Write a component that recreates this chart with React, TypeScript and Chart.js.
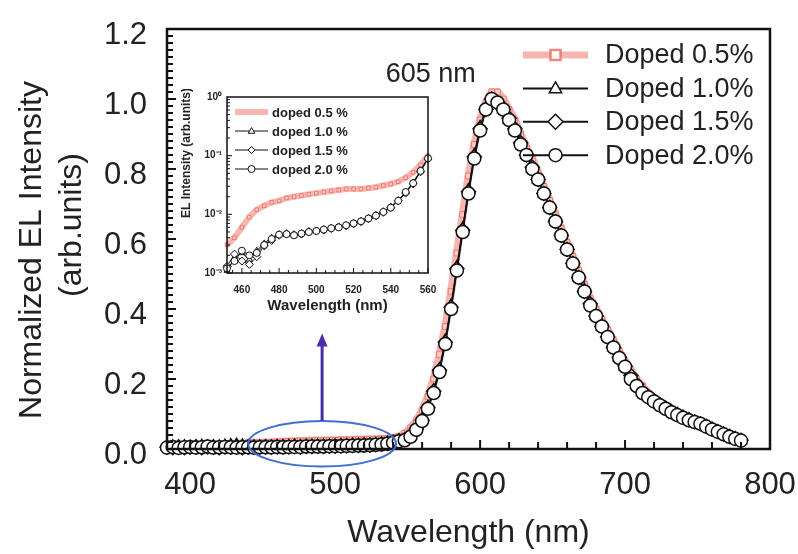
import React, { useEffect, useRef } from "react";
import { Chart, registerables } from "chart.js";
Chart.register(...registerables);

const FONT = "'Liberation Sans', Arial, sans-serif";
const TEXT = "#222";

// ---------- main plot data ----------
const WAVELENGTHS = [
  384, 388, 392, 396, 400, 404, 408, 412, 416, 420, 424, 428, 432, 436, 440,
  444, 448, 452, 456, 460, 464, 468, 472, 476, 480, 484, 488, 492, 496, 500, 504, 508, 512, 516, 520, 524, 528, 532, 536, 540,
  544, 548, 552, 556, 560, 564, 568, 572, 576, 580, 584, 588, 592, 596, 600,
  604, 608, 612, 616, 620, 624, 628, 632, 636, 640, 644, 648, 652, 656, 660, 664, 668, 672, 676, 680, 684, 688, 692, 696, 700,
  704, 708, 712, 716, 720, 724, 728, 732, 736, 740, 744, 748, 752, 756, 760, 764, 768, 772, 776, 780,
];

const DOPED_05 = [
  0.008, 0.01, 0.008, 0.01, 0.012, 0.01, 0.011, 0.012, 0.012, 0.013, 0.014, 0.015, 0.015, 0.016, 0.017,
  0.018, 0.018, 0.018, 0.019, 0.02, 0.021, 0.022, 0.022, 0.023, 0.023, 0.024, 0.024, 0.024, 0.025, 0.025, 0.026, 0.026, 0.026, 0.027, 0.027, 0.028, 0.028, 0.029, 0.03, 0.032,
  0.036, 0.045, 0.06, 0.08, 0.11, 0.15, 0.2, 0.27, 0.35, 0.45, 0.56, 0.67, 0.78, 0.87, 0.94,
  0.99, 1.02, 1.02, 1.0, 0.97, 0.94, 0.9, 0.86, 0.83, 0.79, 0.75, 0.71, 0.67, 0.63, 0.59, 0.55, 0.51, 0.47, 0.43, 0.4, 0.37, 0.34, 0.31, 0.28, 0.25,
  0.225, 0.2, 0.18, 0.16, 0.147, 0.135, 0.124, 0.114, 0.105, 0.097, 0.09, 0.083, 0.077, 0.07, 0.062, 0.054, 0.047, 0.04, 0.034, 0.028,
];

const DOPED_10 = [
  0.006, 0.007, 0.005, 0.008, 0.006, 0.007, 0.009, 0.006, 0.008, 0.007, 0.009, 0.011, 0.012, 0.01, 0.008,
  0.007, 0.007, 0.008, 0.007, 0.008, 0.008, 0.008, 0.009, 0.008, 0.009, 0.009, 0.009, 0.01, 0.01, 0.01, 0.011, 0.011, 0.012, 0.012, 0.013, 0.013, 0.014, 0.015, 0.017, 0.02,
  0.024, 0.028, 0.038, 0.058, 0.084, 0.12, 0.168, 0.228, 0.31, 0.41, 0.52, 0.63, 0.74, 0.84, 0.92,
  0.975, 1.0, 0.99, 0.97, 0.94, 0.91, 0.875, 0.84, 0.8, 0.77, 0.73, 0.69, 0.65, 0.61, 0.57, 0.53, 0.49, 0.455, 0.415, 0.38, 0.35, 0.32, 0.29, 0.26, 0.235,
  0.205, 0.183, 0.162, 0.149, 0.137, 0.126, 0.116, 0.106, 0.098, 0.09, 0.083, 0.077, 0.072, 0.064, 0.056, 0.049, 0.042, 0.035, 0.029, 0.024,
];

const DOPED_15 = [
  0.005, 0.004, 0.006, 0.004, 0.005, 0.006, 0.004, 0.006, 0.005, 0.004, 0.006, 0.005, 0.006, 0.004, 0.005,
  0.005, 0.005, 0.006, 0.005, 0.006, 0.006, 0.006, 0.007, 0.006, 0.007, 0.007, 0.008, 0.007, 0.008, 0.008, 0.009, 0.009, 0.01, 0.01, 0.011, 0.011, 0.012, 0.014, 0.016, 0.019,
  0.023, 0.027, 0.037, 0.057, 0.082, 0.118, 0.165, 0.225, 0.305, 0.405, 0.515, 0.625, 0.735, 0.835, 0.915,
  0.97, 1.0, 0.99, 0.97, 0.945, 0.915, 0.875, 0.84, 0.805, 0.77, 0.73, 0.69, 0.65, 0.61, 0.57, 0.53, 0.49, 0.45, 0.415, 0.38, 0.35, 0.32, 0.29, 0.262, 0.237,
  0.21, 0.185, 0.163, 0.15, 0.138, 0.127, 0.117, 0.107, 0.099, 0.091, 0.084, 0.078, 0.072, 0.065, 0.057, 0.05, 0.043, 0.036, 0.03, 0.025,
];

const DOPED_20 = [
  0.004, 0.006, 0.003, 0.005, 0.006, 0.004, 0.005, 0.007, 0.004, 0.005, 0.006, 0.005, 0.004, 0.005, 0.005,
  0.004, 0.005, 0.005, 0.005, 0.006, 0.005, 0.006, 0.006, 0.006, 0.007, 0.007, 0.007, 0.007, 0.008, 0.008, 0.008, 0.009, 0.009, 0.01, 0.01, 0.011, 0.012, 0.013, 0.015, 0.018,
  0.022, 0.025, 0.035, 0.055, 0.08, 0.115, 0.16, 0.22, 0.3, 0.4, 0.51, 0.62, 0.73, 0.83, 0.91,
  0.97, 1.0, 0.99, 0.97, 0.94, 0.91, 0.87, 0.84, 0.8, 0.77, 0.73, 0.69, 0.65, 0.61, 0.57, 0.53, 0.49, 0.45, 0.41, 0.38, 0.35, 0.32, 0.29, 0.26, 0.235,
  0.2, 0.18, 0.16, 0.148, 0.136, 0.125, 0.115, 0.105, 0.097, 0.089, 0.082, 0.077, 0.072, 0.064, 0.056, 0.049, 0.042, 0.035, 0.029, 0.024,
];

const SERIES_LABELS = ["Doped 0.5%", "Doped 1.0%", "Doped 1.5%", "Doped 2.0%"];
const MAIN_X_TICKS = [400, 500, 600, 700, 800];
const MAIN_Y_TICKS = [0, 0.2, 0.4, 0.6, 0.8, 1.0, 1.2];
const PEAK_LABEL = "605 nm";

// ---------- inset data ----------
const INSET_WL = [452, 456, 460, 464, 468, 472, 476, 480, 484, 488, 492, 496, 500, 504, 508, 512, 516, 520, 524, 528, 532, 536, 540, 544, 548, 552, 556, 560];
const INSET_05 = [0.003, 0.004, 0.006, 0.009, 0.012, 0.014, 0.016, 0.017, 0.019, 0.02, 0.021, 0.022, 0.023, 0.024, 0.025, 0.026, 0.027, 0.027, 0.027, 0.028, 0.029, 0.031, 0.033, 0.036, 0.042, 0.052, 0.07, 0.1];
const INSET_10 = [0.0011, 0.0018, 0.0022, 0.0017, 0.0024, 0.0032, 0.004, 0.0046, 0.0045, 0.0043, 0.0048, 0.005, 0.0053, 0.0056, 0.0059, 0.0062, 0.0066, 0.0071, 0.0078, 0.0087, 0.0098, 0.0113, 0.0135, 0.0175, 0.024, 0.035, 0.056, 0.092];
const INSET_15 = [0.0013, 0.0021, 0.0016, 0.0014, 0.0019, 0.0029, 0.0036, 0.0044, 0.0047, 0.0045, 0.0046, 0.0051, 0.0052, 0.0054, 0.0057, 0.0061, 0.0064, 0.0069, 0.0075, 0.0084, 0.0094, 0.0108, 0.013, 0.017, 0.023, 0.033, 0.053, 0.088];
const INSET_20 = [0.0012, 0.0016, 0.0024, 0.002, 0.0022, 0.003, 0.0038, 0.0045, 0.0046, 0.0044, 0.0047, 0.005, 0.0052, 0.0055, 0.0058, 0.006, 0.0065, 0.007, 0.0076, 0.0085, 0.0095, 0.011, 0.013, 0.017, 0.024, 0.034, 0.055, 0.09];
const INSET_LABELS = ["doped 0.5 %", "doped 1.0 %", "doped 1.5 %", "doped 2.0 %"];
const INSET_X_TICKS = [460, 480, 500, 520, 540, 560];
const INSET_Y_TICKS = [0.001, 0.01, 0.1, 1];
const INSET_Y_LABELS = ["10\u207B\u00B3", "10\u207B\u00B2", "10\u207B\u00B9", "10\u2070"];

const RED_LINE = "rgba(240,120,110,0.55)";
const RED_FILL = "rgba(255,205,200,0.9)";
const RED_EDGE = "rgba(235,105,95,0.8)";
const BLACK = "#111";

function pts(xs: number[], ys: number[]) {
  return xs.map((x, i) => ({ x, y: ys[i] }));
}

function drawMarker(ctx: CanvasRenderingContext2D, style: string, x: number, y: number, r: number, fill: string, stroke: string, lw: number) {
  ctx.save();
  ctx.beginPath();
  if (style === "circle") {
    ctx.arc(x, y, r, 0, Math.PI * 2);
  } else if (style === "triangle") {
    ctx.moveTo(x, y - r);
    ctx.lineTo(x + r * 0.95, y + r * 0.65);
    ctx.lineTo(x - r * 0.95, y + r * 0.65);
    ctx.closePath();
  } else if (style === "rectRot") {
    ctx.moveTo(x, y - r);
    ctx.lineTo(x + r, y);
    ctx.lineTo(x, y + r);
    ctx.lineTo(x - r, y);
    ctx.closePath();
  } else {
    ctx.rect(x - r, y - r, 2 * r, 2 * r);
  }
  ctx.fillStyle = fill;
  ctx.fill();
  ctx.lineWidth = lw;
  ctx.strokeStyle = stroke;
  ctx.stroke();
  ctx.restore();
}

function seg(ctx: CanvasRenderingContext2D, x1: number, y1: number, x2: number, y2: number) {
  ctx.beginPath();
  ctx.moveTo(x1, y1);
  ctx.lineTo(x2, y2);
  ctx.stroke();
}

function zeroPad(s: any) {
  s.paddingLeft = 0;
  s.paddingRight = 0;
  s.paddingTop = 0;
  s.paddingBottom = 0;
}

const mainDecor = {
  id: "mainDecor",
  afterDraw(chart: any) {
    const { ctx, chartArea, scales } = chart;
    const { left, right, top, bottom } = chartArea;
    const x = scales.x;
    const y = scales.y;
    ctx.save();
    // inward ticks
    ctx.strokeStyle = BLACK;
    ctx.lineWidth = 2;
    for (let v = 400; v <= 800; v += 20) {
      const px = x.getPixelForValue(v);
      seg(ctx, px, bottom, px, bottom - (v % 100 === 0 ? 9 : 7));
    }
    for (let k = 1; k < 60; k++) {
      const py = y.getPixelForValue(k * 0.02);
      seg(ctx, left, py, left + (k % 10 === 0 ? 9 : 6), py);
    }
    // frame
    ctx.lineWidth = 2.5;
    ctx.strokeRect(left, top, right - left, bottom - top);

    // y title (two lines)
    ctx.fillStyle = TEXT;
    ctx.font = `32px ${FONT}`;
    ctx.textAlign = "center";
    ctx.textBaseline = "middle";
    ctx.save();
    ctx.translate(32, 250);
    ctx.rotate(-Math.PI / 2);
    ctx.fillText("Normalized EL Intensity", 0, 0);
    ctx.restore();
    ctx.save();
    ctx.translate(72, 225);
    ctx.rotate(-Math.PI / 2);
    ctx.fillText("(arb.units)", 0, 0);
    ctx.restore();

    // peak label
    ctx.font = `27px ${FONT}`;
    ctx.fillText(PEAK_LABEL, x.getPixelForValue(566), y.getPixelForValue(1.07));

    // ellipse + arrow
    const ex1 = x.getPixelForValue(440);
    const ex2 = x.getPixelForValue(542);
    const ey1 = y.getPixelForValue(0.08);
    const ey2 = y.getPixelForValue(-0.05);
    const cx = (ex1 + ex2) / 2;
    const cy = (ey1 + ey2) / 2;
    ctx.strokeStyle = "#3f6fd4";
    ctx.lineWidth = 2;
    ctx.beginPath();
    ctx.ellipse(cx, cy, (ex2 - ex1) / 2, (ey2 - ey1) / 2, 0, 0, Math.PI * 2);
    ctx.stroke();
    const tipY = y.getPixelForValue(0.33);
    ctx.strokeStyle = "#4a2ea8";
    ctx.fillStyle = "#4a2ea8";
    ctx.lineWidth = 3;
    seg(ctx, cx, ey1, cx, tipY + 10);
    ctx.beginPath();
    ctx.moveTo(cx, tipY);
    ctx.lineTo(cx + 5.5, tipY + 13);
    ctx.lineTo(cx - 5.5, tipY + 13);
    ctx.closePath();
    ctx.fill();

    // legend
    const styles = ["rect", "triangle", "rectRot", "circle"];
    ctx.font = `27px ${FONT}`;
    ctx.textAlign = "left";
    ctx.textBaseline = "middle";
    for (let i = 0; i < 4; i++) {
      const ly = top + 26 + i * 33.4;
      const x1 = right - 247;
      const x2 = right - 182;
      const mx = (x1 + x2) / 2;
      if (i === 0) {
        ctx.strokeStyle = RED_LINE;
        ctx.lineWidth = 7;
        seg(ctx, x1, ly, x2, ly);
        drawMarker(ctx, "rect", mx, ly, 5, "#fff", RED_EDGE, 2.5);
      } else {
        ctx.strokeStyle = BLACK;
        ctx.lineWidth = 2;
        seg(ctx, x1, ly, x2, ly);
        drawMarker(ctx, styles[i], mx, ly, i === 2 ? 7.5 : 6.5, "#fff", BLACK, 1.5);
      }
      ctx.fillStyle = TEXT;
      ctx.fillText(SERIES_LABELS[i], right - 165, ly + 1);
    }
    ctx.restore();
  },
};

const insetDecor = {
  id: "insetDecor",
  afterDraw(chart: any) {
    const { ctx, chartArea, scales } = chart;
    const { left, right, top, bottom } = chartArea;
    const x = scales.x;
    const y = scales.y;
    ctx.save();
    ctx.strokeStyle = BLACK;
    ctx.lineWidth = 1;
    for (let v = 455; v <= 560; v += 5) {
      const px = x.getPixelForValue(v);
      seg(ctx, px, bottom, px, bottom - (v % 20 === 0 ? 5 : 3));
    }
    for (let d = -3; d < 0; d++) {
      for (let m = 1; m <= 9; m++) {
        const v = m * Math.pow(10, d);
        const py = y.getPixelForValue(v);
        seg(ctx, left, py, left + (m === 1 ? 5 : 3), py);
      }
    }
    ctx.lineWidth = 1.5;
    ctx.strokeRect(left, top, right - left, bottom - top);

    // y title
    ctx.fillStyle = TEXT;
    ctx.font = `bold 12px ${FONT}`;
    ctx.textAlign = "center";
    ctx.textBaseline = "middle";
    ctx.save();
    ctx.translate(7, 64);
    ctx.rotate(-Math.PI / 2);
    ctx.fillText("EL Intensity (arb.units)", 0, 0);
    ctx.restore();

    // legend
    const styles = ["rect", "triangle", "rectRot", "circle"];
    ctx.font = `bold 13px ${FONT}`;
    ctx.textAlign = "left";
    for (let i = 0; i < 4; i++) {
      const ly = top + 15 + i * 19;
      const x1 = left + 8;
      const x2 = left + 41;
      const mx = (x1 + x2) / 2;
      if (i === 0) {
        ctx.strokeStyle = RED_LINE;
        ctx.lineWidth = 6;
        seg(ctx, x1, ly, x2, ly);
      } else {
        ctx.strokeStyle = BLACK;
        ctx.lineWidth = 1;
        seg(ctx, x1, ly, x2, ly);
        drawMarker(ctx, styles[i], mx, ly, 3.5, "#fff", BLACK, 1);
      }
      ctx.fillStyle = TEXT;
      ctx.fillText(INSET_LABELS[i], left + 45, ly + 1);
    }
    ctx.restore();
  },
};

function blackSet(label: string, data: any[], style: string, r: number, order: number) {
  return {
    label,
    data,
    borderColor: BLACK,
    borderWidth: 1.5,
    pointStyle: style,
    pointRadius: r,
    pointBackgroundColor: "#fff",
    pointBorderColor: BLACK,
    pointBorderWidth: 1.5,
    order,
    clip: false,
  };
}

export default function App() {
  const mainRef = useRef<HTMLCanvasElement>(null);
  const insetRef = useRef<HTMLCanvasElement>(null);

  useEffect(() => {
    Chart.defaults.font.family = FONT;
    const main = new Chart(mainRef.current!, {
      type: "line",
      data: {
        datasets: [
          blackSet(SERIES_LABELS[3], pts(WAVELENGTHS, DOPED_20), "circle", 6.5, 1),
          blackSet(SERIES_LABELS[2], pts(WAVELENGTHS, DOPED_15), "rectRot", 7, 2),
          blackSet(SERIES_LABELS[1], pts(WAVELENGTHS, DOPED_10), "triangle", 6.5, 3),
          {
            label: SERIES_LABELS[0],
            data: pts(WAVELENGTHS, DOPED_05),
            borderColor: RED_LINE,
            borderWidth: 8,
            pointStyle: "rect",
            pointRadius: 4,
            pointBackgroundColor: RED_FILL,
            pointBorderColor: RED_EDGE,
            pointBorderWidth: 1,
            order: 4,
            clip: false,
          },
        ] as any,
      },
      options: {
        animation: false,
        responsive: false,
        devicePixelRatio: 1,
        layout: { padding: { left: 0, right: 28, top: 29, bottom: 0 } },
        elements: { line: { tension: 0 } },
        plugins: { legend: { display: false }, tooltip: { enabled: false } },
        scales: {
          x: {
            type: "linear",
            min: 384,
            max: 800,
            afterBuildTicks: (s: any) => {
              s.ticks = MAIN_X_TICKS.map((v) => ({ value: v }));
            },
            afterFit: (s: any) => {
              s.height = 105;
              zeroPad(s);
            },
            grid: { display: false, drawTicks: false },
            border: { display: false },
            ticks: {
              font: { family: FONT, size: 31 },
              color: TEXT,
              padding: 18,
              maxRotation: 0,
              autoSkip: false,
              callback: (v: any) => String(v),
            },
            title: {
              display: true,
              text: "Wavelength (nm)",
              font: { family: FONT, size: 32 },
              color: TEXT,
              padding: { top: 0, bottom: 2 },
            },
          },
          y: {
            type: "linear",
            min: 0,
            max: 1.2,
            afterBuildTicks: (s: any) => {
              s.ticks = MAIN_Y_TICKS.map((v) => ({ value: v }));
            },
            afterFit: (s: any) => {
              s.width = 167;
              zeroPad(s);
            },
            grid: { display: false, drawTicks: false },
            border: { display: false },
            ticks: {
              font: { family: FONT, size: 31 },
              color: TEXT,
              padding: 20,
              labelOffset: 6,
              autoSkip: false,
              callback: (v: any) => Number(v).toFixed(1),
            },
          },
        },
      } as any,
      plugins: [mainDecor],
    });

    const inset = new Chart(insetRef.current!, {
      type: "line",
      data: {
        datasets: [
          { ...blackSet(INSET_LABELS[3], pts(INSET_WL, INSET_20), "circle", 3.5, 1), borderWidth: 1, pointBorderWidth: 1 },
          { ...blackSet(INSET_LABELS[2], pts(INSET_WL, INSET_15), "rectRot", 4, 2), borderWidth: 1, pointBorderWidth: 1 },
          { ...blackSet(INSET_LABELS[1], pts(INSET_WL, INSET_10), "triangle", 3.5, 3), borderWidth: 1, pointBorderWidth: 1 },
          {
            label: INSET_LABELS[0],
            data: pts(INSET_WL, INSET_05),
            borderColor: RED_LINE,
            borderWidth: 6,
            pointStyle: "rect",
            pointRadius: 2.5,
            pointBackgroundColor: RED_FILL,
            pointBorderColor: RED_EDGE,
            pointBorderWidth: 1,
            order: 4,
            clip: false,
          },
        ] as any,
      },
      options: {
        animation: false,
        responsive: false,
        devicePixelRatio: 1,
        layout: { padding: { left: 0, right: 12, top: 8, bottom: 0 } },
        elements: { line: { tension: 0 } },
        plugins: { legend: { display: false }, tooltip: { enabled: false } },
        scales: {
          x: {
            type: "linear",
            min: 452,
            max: 560,
            afterBuildTicks: (s: any) => {
              s.ticks = INSET_X_TICKS.map((v) => ({ value: v }));
            },
            afterFit: (s: any) => {
              s.height = 52;
              zeroPad(s);
            },
            grid: { display: false, drawTicks: false },
            border: { display: false },
            ticks: {
              font: { family: FONT, size: 10, weight: "bold" },
              color: TEXT,
              padding: 11,
              maxRotation: 0,
              autoSkip: false,
              callback: (v: any) => String(v),
            },
            title: {
              display: true,
              text: "Wavelength (nm)",
              font: { family: FONT, size: 15, weight: "bold" },
              color: TEXT,
              padding: { top: 0, bottom: 10 },
            },
          },
          y: {
            type: "logarithmic",
            min: 0.001,
            max: 1,
            afterBuildTicks: (s: any) => {
              s.ticks = INSET_Y_TICKS.map((v) => ({ value: v }));
            },
            afterFit: (s: any) => {
              s.width = 47;
              zeroPad(s);
            },
            grid: { display: false, drawTicks: false },
            border: { display: false },
            ticks: {
              font: { family: FONT, size: 10, weight: "bold" },
              color: TEXT,
              padding: 5,
              autoSkip: false,
              callback: (_v: any, i: number) => INSET_Y_LABELS[i],
            },
          },
        },
      } as any,
      plugins: [insetDecor],
    });

    return () => {
      main.destroy();
      inset.destroy();
    };
  }, []);

  return (
    <div style={{ position: "absolute", left: 0, top: 0, width: 798, height: 554, background: "#fff" }}>
      <canvas ref={mainRef} width={798} height={554} style={{ position: "absolute", left: 0, top: 0 }} />
      <canvas
        ref={insetRef}
        width={260}
        height={236}
        style={{ position: "absolute", left: 180, top: 89, background: "#fff" }}
      />
    </div>
  );
}
